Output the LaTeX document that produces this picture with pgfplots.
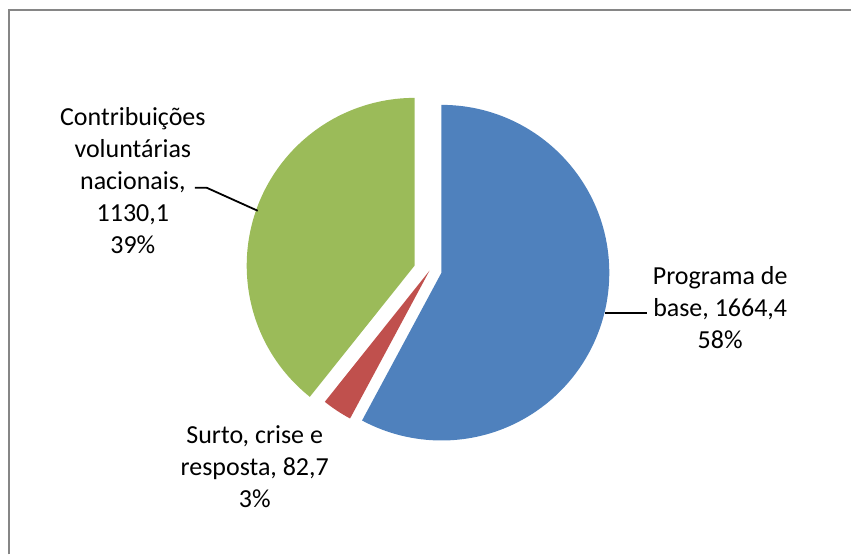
\documentclass[border=0pt]{standalone}
\usepackage{pgfplots}
\usepackage{pgfplotstable}
\pgfplotsset{compat=1.18}
\usepackage{fontspec}
\setmainfont{Carlito}
\definecolor{cblue}{HTML}{4F81BD}
\definecolor{cred}{HTML}{C0504D}
\definecolor{cgreen}{HTML}{9BBB59}
\definecolor{frame}{HTML}{868686}
\pgfplotstableread{
value cx cy
1664.4 442 273
82.7 430 271
1130.1 415 266
}\piedata
\begin{document}
\begin{tikzpicture}
\pgfplotstablegetelem{0}{value}\of\piedata \let\va\pgfplotsretval
\pgfplotstablegetelem{1}{value}\of\piedata \let\vb\pgfplotsretval
\pgfplotstablegetelem{2}{value}\of\piedata \let\vc\pgfplotsretval
\pgfplotstablegetelem{0}{cx}\of\piedata \let\xa\pgfplotsretval
\pgfplotstablegetelem{1}{cx}\of\piedata \let\xb\pgfplotsretval
\pgfplotstablegetelem{2}{cx}\of\piedata \let\xc\pgfplotsretval
\pgfplotstablegetelem{0}{cy}\of\piedata \let\ya\pgfplotsretval
\pgfplotstablegetelem{1}{cy}\of\piedata \let\yb\pgfplotsretval
\pgfplotstablegetelem{2}{cy}\of\piedata \let\yc\pgfplotsretval
\pgfmathsetmacro\tot{\va+\vb+\vc}
\pgfmathsetmacro\aA{0}
\pgfmathsetmacro\aB{\va/\tot*360}
\pgfmathsetmacro\aC{(\va+\vb)/\tot*360}
\pgfmathsetmacro\aD{360}
\def\R{168pt}
\begin{axis}[
  scale only axis, width=852pt, height=555pt,
  xmin=0, xmax=852, ymin=0, ymax=555, y dir=reverse,
  hide axis, clip=false]
\path (axis cs:0,0) rectangle (axis cs:852,555);
\draw[frame, line width=2pt] (axis cs:9.5,555) -- (axis cs:9.5,10.5) -- (axis cs:852,10.5);
\fill[cblue] (axis cs:\xa,\ya) -- ++({90-\aA}:\R) arc[start angle={90-\aA}, end angle={90-\aB}, radius=\R] -- cycle;
\fill[cred] (axis cs:\xb,\yb) -- ++({90-\aB}:\R) arc[start angle={90-\aB}, end angle={90-\aC}, radius=\R] -- cycle;
\fill[cgreen] (axis cs:\xc,\yc) -- ++({90-\aC}:\R) arc[start angle={90-\aC}, end angle={90-\aD}, radius=\R] -- cycle;
\draw[black, line width=1.8pt] (axis cs:195,188) -- (axis cs:207,188) -- (axis cs:258,211);
\draw[black, line width=1.8pt] (axis cs:606,313) -- (axis cs:648,313);
\node[align=center, font=\fontsize{26}{32}\selectfont, inner sep=0pt] at (axis cs:133,181) {Contribuições\\voluntárias\\nacionais,\\1130,1\\39\%};
\node[align=center, font=\fontsize{26}{32}\selectfont, inner sep=0pt] at (axis cs:721,308) {Programa de\\base, 1664,4\\58\%};
\node[align=center, font=\fontsize{26}{32}\selectfont, inner sep=0pt] at (axis cs:255,467) {Surto, crise e\\resposta, 82,7\\3\%};
\end{axis}
\end{tikzpicture}
\end{document}
